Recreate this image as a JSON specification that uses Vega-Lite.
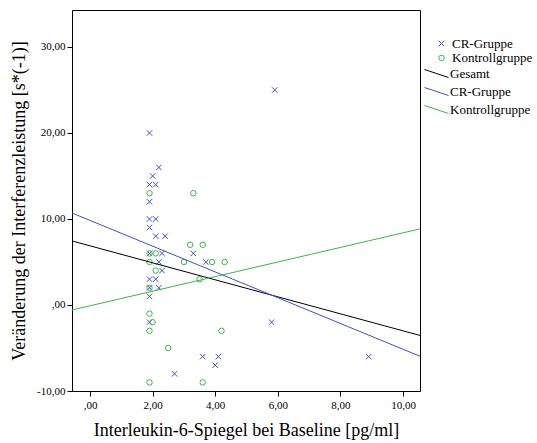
{
  "$schema": "https://vega.github.io/schema/vega-lite/v6.json",
  "width": 348,
  "height": 381,
  "autosize": {"type": "none"},
  "padding": {"left": 72, "top": 10, "right": 117, "bottom": 52},
  "background": "white",
  "config": {
    "font": "Liberation Serif",
    "view": {"stroke": "black", "strokeWidth": 1},
    "axis": {
      "grid": false,
      "domain": false,
      "tickColor": "black",
      "tickSize": 5,
      "labelColor": "black",
      "labelFont": "Liberation Serif",
      "labelFontSize": 11,
      "titleFont": "Liberation Serif",
      "titleFontSize": 18,
      "titleFontWeight": "normal",
      "titleColor": "black"
    },
    "legend": {
      "labelFont": "Liberation Serif",
      "labelFontSize": 13,
      "labelColor": "black",
      "padding": 0
    }
  },
  "datasets": {
    "punkte": [
      {"gruppe": "CR-Gruppe", "il6": 1.9, "veraenderung": 20},
      {"gruppe": "CR-Gruppe", "il6": 2.2, "veraenderung": 16},
      {"gruppe": "CR-Gruppe", "il6": 2.0, "veraenderung": 15},
      {"gruppe": "CR-Gruppe", "il6": 1.9, "veraenderung": 14},
      {"gruppe": "CR-Gruppe", "il6": 2.1, "veraenderung": 14},
      {"gruppe": "CR-Gruppe", "il6": 1.9, "veraenderung": 12},
      {"gruppe": "CR-Gruppe", "il6": 1.9, "veraenderung": 10},
      {"gruppe": "CR-Gruppe", "il6": 2.1, "veraenderung": 10},
      {"gruppe": "CR-Gruppe", "il6": 1.9, "veraenderung": 9},
      {"gruppe": "CR-Gruppe", "il6": 2.1, "veraenderung": 8},
      {"gruppe": "CR-Gruppe", "il6": 2.4, "veraenderung": 8},
      {"gruppe": "CR-Gruppe", "il6": 1.9, "veraenderung": 6},
      {"gruppe": "CR-Gruppe", "il6": 2.3, "veraenderung": 6},
      {"gruppe": "CR-Gruppe", "il6": 3.3, "veraenderung": 6},
      {"gruppe": "CR-Gruppe", "il6": 2.2, "veraenderung": 5},
      {"gruppe": "CR-Gruppe", "il6": 3.7, "veraenderung": 5},
      {"gruppe": "CR-Gruppe", "il6": 2.3, "veraenderung": 4},
      {"gruppe": "CR-Gruppe", "il6": 1.9, "veraenderung": 3},
      {"gruppe": "CR-Gruppe", "il6": 2.1, "veraenderung": 3},
      {"gruppe": "CR-Gruppe", "il6": 1.9, "veraenderung": 2},
      {"gruppe": "CR-Gruppe", "il6": 2.2, "veraenderung": 2},
      {"gruppe": "CR-Gruppe", "il6": 1.9, "veraenderung": 1},
      {"gruppe": "CR-Gruppe", "il6": 1.9, "veraenderung": -2},
      {"gruppe": "CR-Gruppe", "il6": 5.8, "veraenderung": -2},
      {"gruppe": "CR-Gruppe", "il6": 3.6, "veraenderung": -6},
      {"gruppe": "CR-Gruppe", "il6": 4.1, "veraenderung": -6},
      {"gruppe": "CR-Gruppe", "il6": 4.0, "veraenderung": -7},
      {"gruppe": "CR-Gruppe", "il6": 2.7, "veraenderung": -8},
      {"gruppe": "CR-Gruppe", "il6": 5.9, "veraenderung": 25},
      {"gruppe": "CR-Gruppe", "il6": 8.9, "veraenderung": -6},
      {"gruppe": "Kontrollgruppe", "il6": 1.9, "veraenderung": 13},
      {"gruppe": "Kontrollgruppe", "il6": 3.3, "veraenderung": 13},
      {"gruppe": "Kontrollgruppe", "il6": 3.2, "veraenderung": 7},
      {"gruppe": "Kontrollgruppe", "il6": 3.6, "veraenderung": 7},
      {"gruppe": "Kontrollgruppe", "il6": 1.9, "veraenderung": 6},
      {"gruppe": "Kontrollgruppe", "il6": 2.1, "veraenderung": 6},
      {"gruppe": "Kontrollgruppe", "il6": 1.9, "veraenderung": 5},
      {"gruppe": "Kontrollgruppe", "il6": 3.0, "veraenderung": 5},
      {"gruppe": "Kontrollgruppe", "il6": 3.9, "veraenderung": 5},
      {"gruppe": "Kontrollgruppe", "il6": 4.3, "veraenderung": 5},
      {"gruppe": "Kontrollgruppe", "il6": 2.1, "veraenderung": 4},
      {"gruppe": "Kontrollgruppe", "il6": 3.5, "veraenderung": 3},
      {"gruppe": "Kontrollgruppe", "il6": 1.9, "veraenderung": 2},
      {"gruppe": "Kontrollgruppe", "il6": 1.9, "veraenderung": -1},
      {"gruppe": "Kontrollgruppe", "il6": 2.0, "veraenderung": -2},
      {"gruppe": "Kontrollgruppe", "il6": 1.9, "veraenderung": -3},
      {"gruppe": "Kontrollgruppe", "il6": 4.2, "veraenderung": -3},
      {"gruppe": "Kontrollgruppe", "il6": 2.5, "veraenderung": -5},
      {"gruppe": "Kontrollgruppe", "il6": 1.9, "veraenderung": -9},
      {"gruppe": "Kontrollgruppe", "il6": 3.6, "veraenderung": -9}
    ],
    "linien": [
      {"linie": "Gesamt", "il6": -0.575, "veraenderung": 7.45},
      {"linie": "Gesamt", "il6": 10.54, "veraenderung": -3.54},
      {"linie": "CR-Gruppe", "il6": -0.575, "veraenderung": 10.7},
      {"linie": "CR-Gruppe", "il6": 10.54, "veraenderung": -5.96},
      {"linie": "Kontrollgruppe", "il6": -0.575, "veraenderung": -0.58},
      {"linie": "Kontrollgruppe", "il6": 10.54, "veraenderung": 8.85}
    ]
  },
  "encoding": {
    "x": {
      "field": "il6",
      "type": "quantitative",
      "scale": {"domain": [-0.575, 10.54], "nice": false, "zero": false},
      "axis": {
        "values": [0, 2, 4, 6, 8, 10],
        "labelExpr": "datum.value == 0 ? ',00' : toString(datum.value) + ',00'",
        "title": "Interleukin-6-Spiegel bei Baseline [pg/ml]",
        "labelPadding": 3,
        "titlePadding": 11
      }
    },
    "y": {
      "field": "veraenderung",
      "type": "quantitative",
      "scale": {"domain": [-10, 34.3], "nice": false, "zero": false},
      "axis": {
        "values": [-10, 0, 10, 20, 30],
        "labelExpr": "datum.value == 0 ? ',00' : toString(datum.value) + ',00'",
        "title": "Veränderung der Interferenzleistung [s*(-1)]",
        "labelPadding": 2,
        "titlePadding": 8
      }
    }
  },
  "layer": [
    {
      "data": {"name": "punkte"},
      "mark": {"type": "point", "filled": false, "strokeWidth": 1, "size": 30, "opacity": 1},
      "encoding": {
        "color": {
          "field": "gruppe",
          "type": "nominal",
          "scale": {"domain": ["CR-Gruppe", "Kontrollgruppe"], "range": ["#3f51c9", "#3db54a"]},
          "legend": {"orient": "none", "legendX": 363, "legendY": 27, "title": null, "rowPadding": 0.4, "labelOffset": 4, "symbolSize": 30, "symbolStrokeWidth": 1}
        },
        "shape": {
          "field": "gruppe",
          "type": "nominal",
          "scale": {"domain": ["CR-Gruppe", "Kontrollgruppe"], "range": ["M-1,-1L1,1M-1,1L1,-1", "circle"]},
          "legend": {"orient": "none", "legendX": 363, "legendY": 27, "title": null, "rowPadding": 0.4, "labelOffset": 4, "symbolSize": 30, "symbolStrokeWidth": 1}
        }
      }
    },
    {
      "data": {"name": "linien"},
      "mark": {"type": "line", "strokeWidth": 1, "clip": true},
      "encoding": {
        "stroke": {
          "field": "linie",
          "type": "nominal",
          "sort": null,
          "scale": {"domain": ["Gesamt", "CR-Gruppe", "Kontrollgruppe"], "range": ["black", "#3f51c9", "#3db54a"]},
          "legend": {"orient": "none", "legendX": 358, "legendY": 57, "title": null, "symbolType": "M-2.4,-0.8L2.4,0.8", "symbolSize": 100, "symbolStrokeWidth": 1, "labelOffset": 7, "rowPadding": 4}
        }
      }
    }
  ]
}
